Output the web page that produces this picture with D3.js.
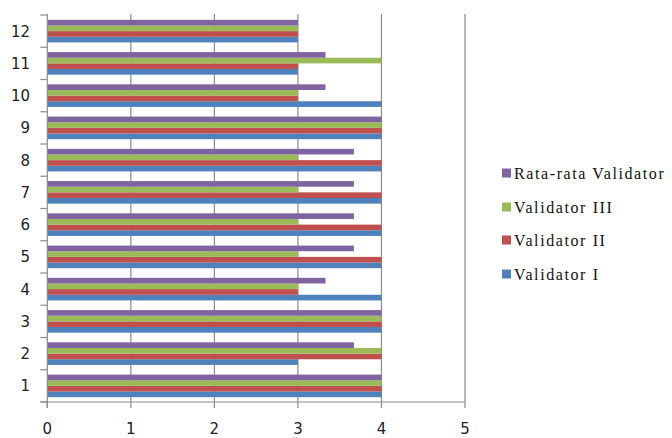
<!DOCTYPE html>
<html>
<head>
<meta charset="utf-8">
<script src="https://cdn.jsdelivr.net/npm/d3@7"></script>
<style>
  html, body { margin: 0; padding: 0; background: #fff; }
  svg { display: block; }
</style>
</head>
<body>
<svg id="chart" width="672" height="438"></svg>
<script>
// Item numbers (drawn bottom-up: 1 at the bottom)
const items = ["1", "2", "3", "4", "5", "6", "7", "8", "9", "10", "11", "12"];

// Scores per validator
const validator1 = [4, 3, 4, 4, 4, 4, 4, 4, 4, 4, 3, 3];
const validator2 = [4, 4, 4, 3, 4, 4, 4, 4, 4, 3, 3, 3];
const validator3 = [4, 4, 4, 3, 3, 3, 3, 3, 4, 3, 4, 3];
const average    = [4, 3.67, 4, 3.33, 3.67, 3.67, 3.67, 3.67, 4, 3.33, 3.33, 3];

const seriesNames = ["Validator I", "Validator II", "Validator III", "Rata-rata Validator"];
const seriesColors = ["#4F81BD", "#C0504D", "#9BBB59", "#8064A2"];
const xTicks = [0, 1, 2, 3, 4, 5];

const seriesValues = [validator1, validator2, validator3, average];

const svg = d3.select("#chart");
const plotLeft = 47.3, plotRight = 465, plotTop = 15, plotBottom = 402;

const x = d3.scaleLinear().domain([0, 5]).range([plotLeft, plotRight]);
// Items stacked from bottom (1) to top (12)
const y = d3.scaleBand().domain(items).range([plotBottom, plotTop]).paddingInner(0.3).paddingOuter(0.15);
const yEdge = d3.scaleBand().domain(items).range([plotBottom, plotTop]);
// Within an item: Validator I at the bottom, average at the top
const ySub = d3.scaleBand().domain(d3.range(4).map(String)).range([y.bandwidth(), 0]);

// Vertical gridlines
svg.append("g")
  .selectAll("line")
  .data(xTicks.slice(1))
  .join("line")
  .attr("x1", d => x(d)).attr("x2", d => x(d))
  .attr("y1", plotTop - 1).attr("y2", plotBottom)
  .attr("stroke", "#8c8c8c").attr("stroke-width", 1.2);

// Bars
const groups = svg.append("g")
  .selectAll("g")
  .data(items)
  .join("g")
  .attr("transform", d => `translate(0,${y(d)})`);

groups.selectAll("rect")
  .data((d, i) => seriesValues.map((vals, s) => ({ s, v: vals[i] })))
  .join("rect")
  .attr("x", x(0))
  .attr("y", d => ySub(String(d.s)))
  .attr("width", d => x(d.v) - x(0))
  .attr("height", ySub.bandwidth())
  .attr("fill", d => seriesColors[d.s]);

// Left axis with ticks at item boundaries
const axisColor = "#8c8c8c";
svg.append("line")
  .attr("x1", plotLeft).attr("x2", plotLeft).attr("y1", plotTop - 1).attr("y2", plotBottom + 6)
  .attr("stroke", axisColor).attr("stroke-width", 1.2);
const boundaries = items.map(d => yEdge(d)).concat([plotBottom]);
svg.append("g").selectAll("line")
  .data(boundaries)
  .join("line")
  .attr("x1", plotLeft - 7).attr("x2", plotLeft)
  .attr("y1", d => d).attr("y2", d => d)
  .attr("stroke", axisColor).attr("stroke-width", 1.2);

svg.append("g").selectAll("text")
  .data(items)
  .join("text")
  .attr("x", 30)
  .attr("y", d => yEdge(d) + yEdge.bandwidth() / 2 + 5.5)
  .attr("text-anchor", "end")
  .attr("font-family", "DejaVu Sans, Verdana, sans-serif")
  .attr("font-size", 15)
  .attr("fill", "#222")
  .text(d => d);

// Bottom axis
svg.append("line")
  .attr("x1", plotLeft - 7).attr("x2", plotRight).attr("y1", plotBottom).attr("y2", plotBottom)
  .attr("stroke", axisColor).attr("stroke-width", 1.2);
svg.append("g").selectAll("line")
  .data(xTicks)
  .join("line")
  .attr("x1", d => x(d)).attr("x2", d => x(d))
  .attr("y1", plotBottom).attr("y2", plotBottom + 6)
  .attr("stroke", axisColor).attr("stroke-width", 1.2);
svg.append("g").selectAll("text")
  .data(xTicks)
  .join("text")
  .attr("x", d => x(d))
  .attr("y", 434)
  .attr("text-anchor", "middle")
  .attr("font-family", "DejaVu Sans, Verdana, sans-serif")
  .attr("font-size", 15)
  .attr("fill", "#222")
  .text(d => d);

// Legend (top entry is the average)
const legendOrder = [3, 2, 1, 0];
const legendY = [173, 207, 240, 274];
const legend = svg.append("g").selectAll("g")
  .data(legendOrder)
  .join("g")
  .attr("transform", (d, i) => `translate(502,${legendY[i]})`);
legend.append("rect")
  .attr("x", 0).attr("y", -4.5).attr("width", 9).attr("height", 9)
  .attr("fill", d => seriesColors[d]);
legend.append("text")
  .attr("x", 12).attr("y", 6)
  .attr("font-family", "Liberation Serif, Times New Roman, serif")
  .attr("font-size", 16)
  .attr("letter-spacing", 1.6)
  .attr("fill", "#111")
  .text(d => seriesNames[d]);
</script>
</body>
</html>
